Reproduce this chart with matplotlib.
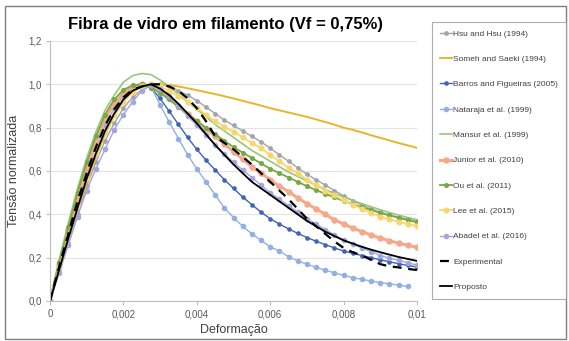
import numpy as np
import matplotlib
matplotlib.use("Agg")
import matplotlib.pyplot as plt
from matplotlib.patches import Rectangle

plt.rcParams['font.family'] = ['Liberation Sans', 'DejaVu Sans']

# strain (every 0.00025) and normalised stress of each model
strain = [i * 0.00025 for i in range(41)]

hsu = [0, 0.14, 0.27, 0.40, 0.53, 0.64, 0.74, 0.82, 0.89, 0.94, 0.975, 0.995, 1.0, 0.99, 0.97, 0.95,
       0.925, 0.895, 0.865, 0.835, 0.81, 0.785, 0.76, 0.735, 0.705, 0.675, 0.645, 0.615, 0.585,
       0.56, 0.535, 0.51, 0.485, 0.463, 0.443, 0.425, 0.41, 0.397, 0.386, 0.377, 0.37]
someh = [0, 0.15, 0.29, 0.42, 0.55, 0.665, 0.77, 0.855, 0.92, 0.965, 0.99, 1.0, 1.0, 0.997, 0.99,
         0.982, 0.973, 0.964, 0.955, 0.945, 0.935, 0.924, 0.913, 0.902, 0.89, 0.88, 0.87, 0.86,
         0.85, 0.838, 0.826, 0.814, 0.80, 0.79, 0.778, 0.765, 0.753, 0.741, 0.729, 0.718, 0.707]
barros = [0, 0.17, 0.33, 0.48, 0.62, 0.74, 0.84, 0.91, 0.96, 0.99, 1.0, 0.985, 0.935, 0.875, 0.815,
          0.755, 0.70, 0.65, 0.605, 0.56, 0.52, 0.48, 0.445, 0.41, 0.38, 0.355, 0.333, 0.312,
          0.293, 0.276, 0.26, 0.245, 0.231, 0.22, 0.21, 0.20, 0.19, 0.181, 0.172, 0.164, 0.157]
nataraja = [0, 0.16, 0.31, 0.45, 0.59, 0.71, 0.81, 0.89, 0.945, 0.98, 0.995, 0.99, 0.905, 0.825,
            0.75, 0.675, 0.61, 0.55, 0.49, 0.43, 0.385, 0.345, 0.31, 0.28, 0.25, 0.23, 0.205,
            0.185, 0.17, 0.155, 0.142, 0.13, 0.118, 0.108, 0.10, 0.092, 0.085, 0.079, 0.073,
            0.067, np.nan]
mansur = [0, 0.19, 0.36, 0.52, 0.66, 0.78, 0.88, 0.95, 1.01, 1.04, 1.05, 1.045, 1.02, 0.99, 0.955,
          0.92, 0.885, 0.85, 0.815, 0.785, 0.755, 0.725, 0.695, 0.67, 0.645, 0.62, 0.595, 0.575,
          0.555, 0.535, 0.515, 0.497, 0.48, 0.464, 0.449, 0.435, 0.421, 0.408, 0.396, 0.385, 0.375]
junior = [0, 0.17, 0.33, 0.48, 0.62, 0.74, 0.84, 0.91, 0.96, 0.99, 1.0, 0.995, 0.97, 0.935, 0.90,
          0.865, 0.83, 0.795, 0.76, 0.725, 0.69, 0.655, 0.62, 0.59, 0.56, 0.53, 0.505, 0.475,
          0.45, 0.425, 0.40, 0.375, 0.355, 0.337, 0.32, 0.305, 0.29, 0.278, 0.266, 0.257, 0.248]
ou = [0, 0.18, 0.34, 0.50, 0.64, 0.76, 0.86, 0.93, 0.975, 0.995, 1.0, 0.985, 0.96, 0.93, 0.895,
      0.86, 0.83, 0.80, 0.77, 0.74, 0.71, 0.685, 0.66, 0.635, 0.61, 0.59, 0.57, 0.55, 0.53,
      0.512, 0.495, 0.478, 0.462, 0.447, 0.433, 0.42, 0.407, 0.395, 0.384, 0.373, 0.363]
lee = [0, 0.155, 0.30, 0.44, 0.57, 0.685, 0.78, 0.86, 0.92, 0.965, 0.99, 1.0, 0.99, 0.97, 0.945,
       0.92, 0.89, 0.86, 0.83, 0.805, 0.78, 0.755, 0.73, 0.705, 0.675, 0.645, 0.615, 0.59, 0.56,
       0.535, 0.51, 0.487, 0.465, 0.445, 0.425, 0.405, 0.39, 0.377, 0.365, 0.355, 0.347]
abadel = [0, 0.13, 0.26, 0.39, 0.51, 0.61, 0.70, 0.79, 0.86, 0.92, 0.97, 0.995, 0.98, 0.945, 0.90,
          0.855, 0.81, 0.765, 0.72, 0.68, 0.64, 0.605, 0.57, 0.535, 0.50, 0.47, 0.44, 0.41, 0.38,
          0.355, 0.33, 0.305, 0.28, 0.262, 0.245, 0.228, 0.21, 0.198, 0.187, 0.176, 0.166]
experimental = [0, 0.16, 0.31, 0.46, 0.59, 0.71, 0.81, 0.885, 0.94, 0.975, 0.99, 1.0, 1.0, 0.99,
                0.97, 0.935, 0.89, 0.83, 0.76, 0.73, 0.70, 0.665, 0.63, 0.59, 0.55, 0.51, 0.47,
                0.425, 0.38, 0.345, 0.31, 0.275, 0.245, 0.225, 0.21, 0.19, 0.17, 0.16, 0.155,
                0.148, 0.143]
proposto = [0, 0.145, 0.29, 0.43, 0.565, 0.68, 0.785, 0.865, 0.93, 0.97, 0.99, 1.0, 0.98, 0.95,
            0.91, 0.865, 0.82, 0.77, 0.72, 0.675, 0.63, 0.59, 0.55, 0.52, 0.49, 0.46, 0.43, 0.40,
            0.37, 0.345, 0.32, 0.30, 0.28, 0.265, 0.25, 0.237, 0.225, 0.214, 0.203, 0.194, 0.185]

x_ticks = [0, 0.002, 0.004, 0.006, 0.008, 0.01]
x_tick_labels = ["0", "0,002", "0,004", "0,006", "0,008", "0,01"]
y_ticks = [0, 0.2, 0.4, 0.6, 0.8, 1.0, 1.2]
y_tick_labels = ["0,0", "0,2", "0,4", "0,6", "0,8", "1,0", "1,2"]

fig = plt.figure(figsize=(5.69, 3.41), dpi=100)
W, H = 569, 341
ax = fig.add_axes([50 / W, 1 - 301 / H, (417 - 50) / W, (301 - 41) / H])

series = [
    ("Hsu and Hsu (1994)", hsu, dict(color="#A3A3AD", lw=1.0, marker="o", ms=2.4)),
    ("Someh and Saeki (1994)", someh, dict(color="#E8B52A", lw=1.4)),
    ("Barros and Figueiras (2005)", barros, dict(color="#3F63B5", lw=1.0, marker="o", ms=2.3)),
    ("Nataraja et al. (1999)", nataraja, dict(color="#93B1E0", lw=1.0, marker="o", ms=3.0)),
    ("Mansur et al. (1999)", mansur, dict(color="#98C67C", lw=1.2)),
    ("Junior et al. (2010)", junior, dict(color="#F3A98A", lw=2.2, marker="o", ms=3.6)),
    ("Ou et al. (2011)", ou, dict(color="#78A843", lw=1.3, marker="o", ms=2.6)),
    ("Lee et al. (2015)", lee, dict(color="#F8D66E", lw=1.3, marker="o", ms=3.4)),
    ("Abadel et al. (2016)", abadel, dict(color="#A0A8E0", lw=1.0, marker="o", ms=3.0)),
    ("Experimental", experimental, dict(color="black", lw=1.6, ls=(0, (4, 3)))),
    ("Proposto", proposto, dict(color="black", lw=1.3)),
]
for label, values, style in series:
    ax.plot(strain, values, label=label, **style)

ax.set_xlim(0, 0.01)
ax.set_ylim(0, 1.2)
ax.set_xticks(x_ticks)
ax.set_xticklabels(x_tick_labels)
ax.set_yticks(y_ticks)
ax.set_yticklabels(y_tick_labels)
ax.tick_params(axis="both", labelsize=7, colors="#595959", length=3, width=0.8,
               direction="out", color="#BFBFBF", pad=3)
ax.yaxis.grid(True, color="#E4E4E4", lw=0.8)
ax.set_axisbelow(True)
for side in ("top", "right"):
    ax.spines[side].set_visible(False)
for side in ("left", "bottom"):
    ax.spines[side].set_color("#BFBFBF")
    ax.spines[side].set_linewidth(0.8)

ax.set_xlabel("Deformação", fontsize=9, color="#404040", labelpad=3)
ax.set_ylabel("Tensão normalizada", fontsize=9, color="#404040", labelpad=6)

fig.text(226 / W, 1 - 25 / H, "Fibra de vidro em filamento (Vf = 0,75%)", fontsize=12,
         fontweight="bold", ha="center", va="center")

leg = fig.legend(loc="upper left", bbox_to_anchor=(432 / W, 1 - 22 / H), fontsize=6.0,
                 frameon=True, fancybox=False, edgecolor="#9A9A9A", labelspacing=2.1,
                 handlelength=1.5, handletextpad=0.1, borderpad=0.95, borderaxespad=0,
                 numpoints=1)
leg.get_frame().set_linewidth(0.8)
for t in leg.get_texts():
    t.set_color("#404040")

fig.add_artist(Rectangle((5 / W, 1 - 339 / H), (566 - 5) / W, (339 - 6) / H,
                         transform=fig.transFigure, fill=False, edgecolor="#7F7F7F", lw=1.0))

fig.savefig("out.png", dpi=100)
